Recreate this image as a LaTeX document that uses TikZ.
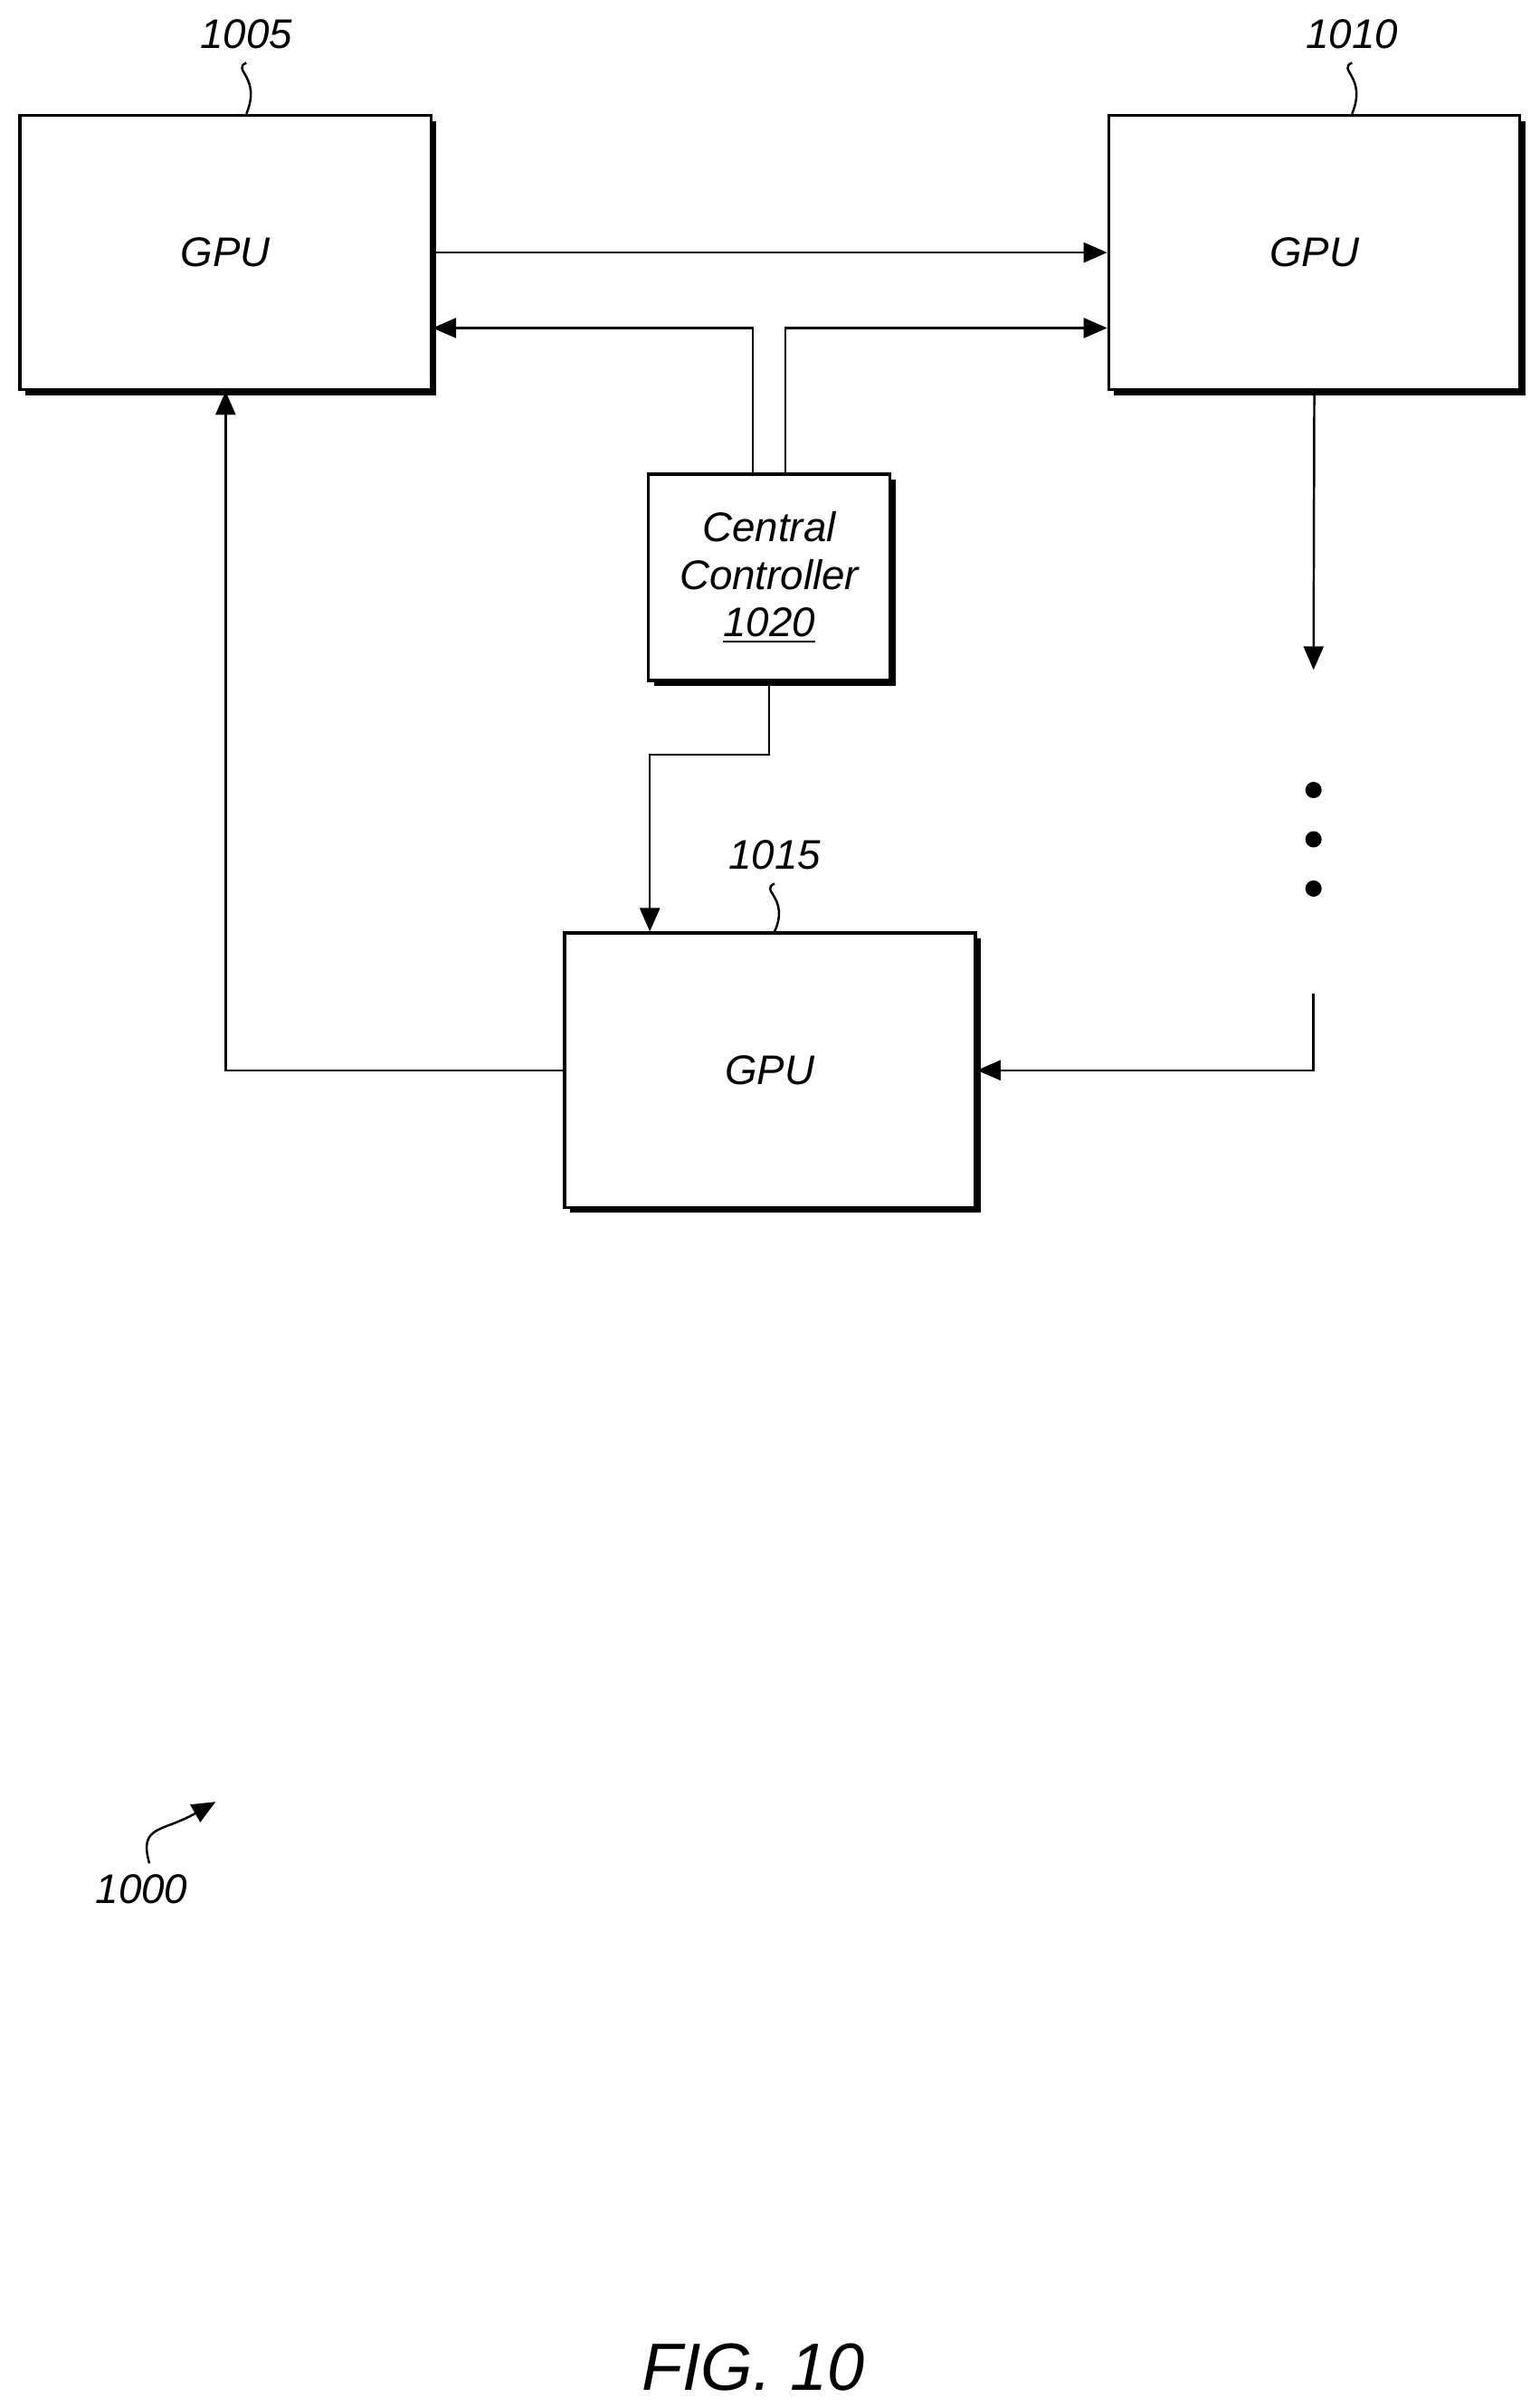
\documentclass[tikz,border=0pt]{standalone}
\usepackage{fontspec}
\setmainfont{Liberation Sans}
\usetikzlibrary{positioning,shadows,arrows.meta}
\begin{document}
\begin{tikzpicture}[x=0.01702cm,y=-0.01702cm]
        \tikzset{
          boite/.style={
            draw,fill=white,line width=1pt,align=center,
            font=\fontsize{13}{15}\selectfont\itshape,
            drop shadow={shadow xshift=0.06cm,shadow yshift=-0.06cm,opacity=1,fill=black},
          },
          gpu/.style={boite,minimum width=4.54cm,minimum height=3.03cm},
          fleche/.style={line width=0.7pt,-{Triangle[length=2.6mm,width=2.2mm]}},
          trait/.style={line width=0.7pt},
          repere/.style={font=\fontsize{13}{15}\selectfont\itshape},
          }
        \useasboundingbox (0,0) rectangle (1000,1563);
        \node[gpu] (a) at (146.5,164) {GPU};
        \node[gpu] (b) at (853.5,164) {GPU};
        \node[boite,minimum width=2.67cm,minimum height=2.28cm] (c) at (499.5,375) {Central\\Controller\\\underline{1020}};
        \node[gpu] (d) at (500,695) {GPU};
        % dots between 1010 and 1015
        \foreach \y in {513,545,577} \fill (853,\y) circle (0.9mm);
        \coordinate (x1) at (853,435);
        \coordinate (x2) at (853,645);
        % reference numerals
        \node[repere] (la) at (160,22) {1005};
        \node[repere] (lb) at (878,22) {1010};
        \node[repere] (ld) at (503,555) {1015};
        \node[repere] (lz) at (92,1227) {1000};
        \node[font=\fontsize{21}{24}\selectfont\itshape] (fig) at (489,1537) {FIG. 10};
        \draw[trait] (la.south) ++(0,2) .. controls (150,45) and (170,50) .. (a.north -| 160,0);
        \draw[trait] (lb.south) ++(0,2) .. controls (868,45) and (888,50) .. (b.north -| 878,0);
        \draw[trait] (ld.south) ++(0,2) .. controls (493,578) and (513,583) .. (d.north -| 503,0);
        \draw[fleche] (97,1210) .. controls (90,1185) and (105,1190) .. (140,1170);
        % connectors
        \draw[fleche] (a.east) -- (b.west);
        \draw[fleche] (c.north -| 489,0) |- (a.east |- 0,213);
        \draw[fleche] (c.north -| 510,0) |- (b.west |- 0,213);
        \draw[fleche] (b.south) -- (x1);
        \draw[fleche] (x2) |- (d.east);
        \draw[fleche] (d.west) -| (a.south);
        \draw[fleche] (c.south) |- (422,490) -- (d.north -| 422,0);
\end{tikzpicture}
\end{document}
